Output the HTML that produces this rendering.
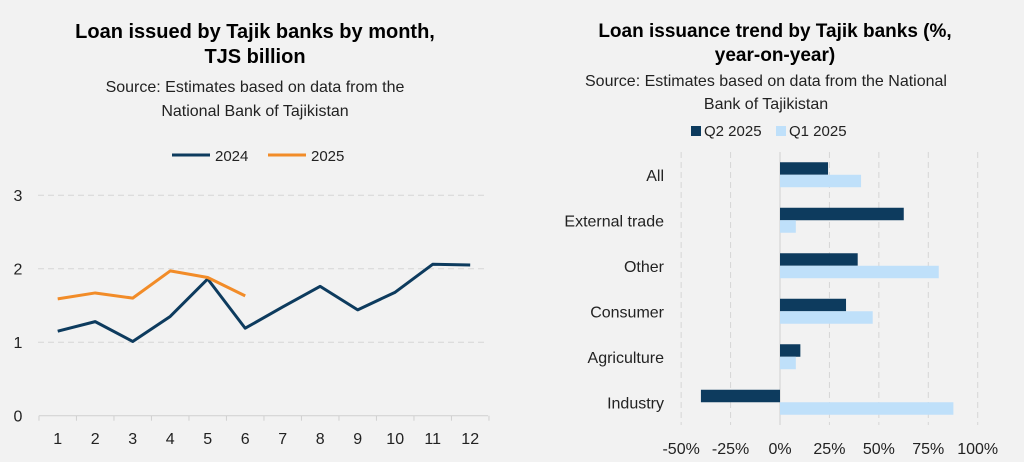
<!DOCTYPE html>
<html><head><meta charset="utf-8"><style>
body{margin:0;background:#f2f2f2;font-family:"Liberation Sans",Arial,sans-serif;}
svg{display:block}
</style></head><body>
<svg width="1024" height="462" viewBox="0 0 1024 462" font-family="Liberation Sans, Arial, sans-serif">
<rect width="1024" height="462" fill="#f2f2f2"/>
<g>
<text x="255" y="38" text-anchor="middle" font-size="20" font-weight="bold" fill="#000">Loan issued by Tajik banks by month,</text>
<text x="255" y="63" text-anchor="middle" font-size="20" font-weight="bold" fill="#000">TJS billion</text>
<text x="255" y="92" text-anchor="middle" font-size="16" fill="#222">Source: Estimates based on data from the</text>
<text x="255" y="116" text-anchor="middle" font-size="16" fill="#222">National Bank of Tajikistan</text>
<g>
<line x1="172" y1="155" x2="210" y2="155" stroke="#0d3b5e" stroke-width="3"/>
<text x="215" y="161" font-size="15" fill="#222">2024</text>
<line x1="268" y1="155" x2="306" y2="155" stroke="#f28c28" stroke-width="3"/>
<text x="311" y="161" font-size="15" fill="#222">2025</text>
</g>
<g id="lc"></g>
</g>
<g>
<text x="775" y="37" text-anchor="middle" font-size="19" font-weight="bold" fill="#000">Loan issuance trend by Tajik banks (%,</text>
<text x="775" y="61" text-anchor="middle" font-size="19" font-weight="bold" fill="#000">year-on-year)</text>
<text x="766" y="86" text-anchor="middle" font-size="16" fill="#222">Source: Estimates based on data from the National</text>
<text x="766" y="109" text-anchor="middle" font-size="16" fill="#222">Bank of Tajikistan</text>
<g>
<rect x="691" y="126" width="10" height="10" fill="#0d3b5e"/>
<text x="704" y="136" font-size="15" fill="#222">Q2 2025</text>
<rect x="776" y="126" width="10" height="10" fill="#bfe0fa"/>
<text x="789" y="136" font-size="15" fill="#222">Q1 2025</text>
</g>
<g id="rc"></g>
</g>
</svg>
<script>
const months=[1,2,3,4,5,6,7,8,9,10,11,12];
const s2024=[1.15,1.28,1.01,1.35,1.86,1.19,1.48,1.76,1.44,1.68,2.06,2.05];
const s2025=[1.59,1.67,1.60,1.97,1.88,1.63];
const yTicks=[0,1,2,3];
const cats=["All","External trade","Other","Consumer","Agriculture","Industry"];
const q2=[24.3,62.6,39.3,33.4,10.3,-40];
const q1=[41,8,80.3,46.9,8,87.7];
const xTicks=[-50,-25,0,25,50,75,100];
const NS="http://www.w3.org/2000/svg";
function mk(p,t,a){const e=document.createElementNS(NS,t);for(const k in a)e.setAttribute(k,a[k]);p.appendChild(e);return e;}
// left chart
const lc=document.getElementById('lc');
const lx=m=>57.7+(m-1)*37.5;
const ly=v=>415.7-v*73.5;
yTicks.forEach(t=>{
 if(t>0){const g=mk(lc,'line',{x1:38,x2:484,y1:ly(t),y2:ly(t),stroke:'#d6d6d6','stroke-dasharray':'6,4'});
 
 }
 const tx=mk(lc,'text',{x:18,y:ly(t)+6,'text-anchor':'middle','font-size':16,fill:'#222'});tx.textContent=t;
 
 
});
const ax=mk(lc,'line',{x1:39,x2:488,y1:ly(0),y2:ly(0),stroke:'#d0d0d0'});


months.forEach((m,i)=>{
 const tk=mk(lc,'line',{x1:lx(m)-18.75,x2:lx(m)-18.75,y1:ly(0),y2:ly(0)+5,stroke:'#d0d0d0'});
 
 
 const tx=mk(lc,'text',{x:lx(m),y:444,'text-anchor':'middle','font-size':16,fill:'#222'});tx.textContent=m;
 
 
});
mk(lc,'line',{x1:lx(12)+18.75,x2:lx(12)+18.75,y1:ly(0),y2:ly(0)+5,stroke:'#d0d0d0'});
const p24=mk(lc,'polyline',{points:s2024.map((v,i)=>lx(months[i])+','+ly(v)).join(' '),fill:'none',stroke:'#0d3b5e','stroke-width':3,'stroke-linejoin':'round'});


const p25=mk(lc,'polyline',{points:s2025.map((v,i)=>lx(months[i])+','+ly(v)).join(' '),fill:'none',stroke:'#f28c28','stroke-width':3,'stroke-linejoin':'round'});


// right chart
const rc=document.getElementById('rc');
const rx=v=>780+v*1.977;
const topY=152,band=45.5,bh=12.5;
xTicks.forEach(t=>{
 if(t!==0){const g=mk(rc,'line',{x1:rx(t),x2:rx(t),y1:topY,y2:topY+band*6,stroke:'#d6d6d6','stroke-dasharray':'6,4'});
 
 }
 const tx=mk(rc,'text',{x:rx(t),y:454,'text-anchor':'middle','font-size':16,fill:'#222'});tx.textContent=t+'%';
 
 
});
const va=mk(rc,'line',{x1:rx(0),x2:rx(0),y1:topY,y2:topY+band*6,stroke:'#d0d0d0'});


cats.forEach((c,i)=>{
 const cy=topY+band*i+band/2;
 const tx=mk(rc,'text',{x:664,y:cy+6,'text-anchor':'end','font-size':16,fill:'#222'});tx.textContent=c;
 
 
 const a=q2[i],b=q1[i];
 const r1=mk(rc,'rect',{x:Math.min(rx(0),rx(a)),y:cy-bh,width:Math.abs(rx(a)-rx(0)),height:bh,fill:'#0d3b5e'});
 
 
 const r2=mk(rc,'rect',{x:Math.min(rx(0),rx(b)),y:cy,width:Math.abs(rx(b)-rx(0)),height:bh,fill:'#bfe0fa'});
 
 
});
</script>
</body></html>
